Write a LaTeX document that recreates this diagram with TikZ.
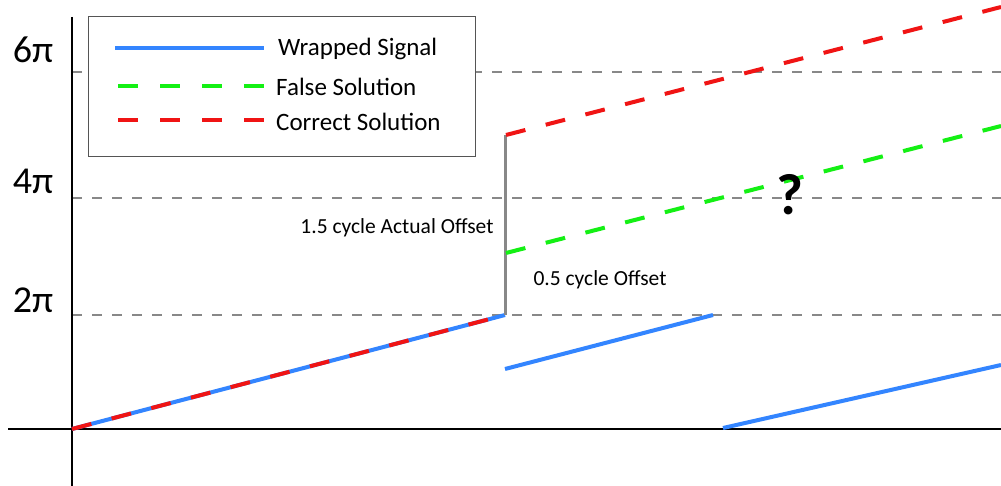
\documentclass[tikz,border=0pt]{standalone}
\usepackage{fontspec}
\setmainfont{Carlito}
\definecolor{sigblue}{RGB}{51,133,255}
\definecolor{falsegreen}{RGB}{20,240,20}
\definecolor{truered}{RGB}{240,20,20}
\definecolor{gridgray}{RGB}{136,136,136}
\definecolor{boxgray}{RGB}{85,85,85}
\begin{document}
\begin{tikzpicture}[x=1bp,y=-1bp,
  gridline/.style={draw=gridgray, line width=1.8bp, dash pattern=on 10bp off 10bp},
  axisline/.style={draw=black, line width=1.8bp},
  sig/.style={draw=sigblue, line width=4bp},
  sol/.style={line width=4bp, dash pattern=on 20bp off 21bp},
  legsol/.style={line width=4bp, dash pattern=on 20bp off 22bp},
  offsetline/.style={draw=gridgray, line width=3bp},
  pilab/.style={font=\fontsize{38bp}{42bp}\selectfont, inner sep=0pt},
  leglab/.style={font=\fontsize{25bp}{28bp}\selectfont, inner sep=0pt, anchor=west},
  notelab/.style={font=\fontsize{21.5bp}{24bp}\selectfont, inner sep=0pt},
]
\useasboundingbox[fill=white] (0,0) rectangle (1001,486);

% grid lines
\coordinate (g6l) at (72,72);  \coordinate (g6r) at (1001,72);
\coordinate (g4l) at (72,198); \coordinate (g4r) at (1001,198);
\coordinate (g2l) at (72,315); \coordinate (g2r) at (1001,315);
\draw[gridline] (g6l) -- (g6r);
\draw[gridline] (g4l) -- (g4r);
\draw[gridline] (g2l) -- (g2r);

% axes
\coordinate (yt) at (72,17);  \coordinate (yb) at (72,486);
\coordinate (xl) at (8,429);  \coordinate (xr) at (1001,429);
\draw[axisline, line width=1.5bp] (yt) -- (yb);
\draw[axisline] (xl) -- (xr);

% axis labels
\node[pilab] (l6) at (33,50) {6π};
\node[pilab] (l4) at (33,181) {4π};
\node[pilab] (l2) at (33,300) {2π};

% wrapped signal
\coordinate (b1s) at (72,429);  \coordinate (b1e) at (505,315);
\coordinate (b2s) at (505,369); \coordinate (b2e) at (713,315);
\coordinate (b3s) at (723,428); \coordinate (b3e) at (1001,365);
\draw[sig] (b1s) -- (b1e);
\draw[sig] (b2s) -- (b2e);
\draw[sig] (b3s) -- (b3e);
\draw[sol, draw=truered] (b1s) -- (b1e);

% offset line
\coordinate (ot) at (505,135);
\draw[offsetline] (b1e) -- (ot);

% solutions
\coordinate (r1s) at (506,135); \coordinate (r1e) at (1001,7);
\coordinate (f1s) at (506,253); \coordinate (f1e) at (1001,126);
\draw[sol, draw=truered] (r1s) -- (r1e);
\draw[sol, draw=falsegreen] (f1s) -- (f1e);

% notes
\node[notelab] (n15) at (397,228) {1.5 cycle Actual Offset};
\node[notelab] (n05) at (600,280) {0.5 cycle Offset};
\node[inner sep=0pt, font=\fontsize{58bp}{60bp}\selectfont\bfseries] (q) at (790,195) {?};

% legend
\node[draw=boxgray, line width=1.3bp, fill=white, minimum width=387bp, minimum height=140bp, inner sep=0pt, anchor=north west] (legend) at (88,16) {};
\coordinate (lbs) at (115,48); \coordinate (lbe) at (264,48);
\coordinate (lgs) at (118,86); \coordinate (lge) at (264,86);
\coordinate (lrs) at (118,120); \coordinate (lre) at (264,120);
\draw[sig] (lbs) -- (lbe);
\draw[legsol, draw=falsegreen] (lgs) -- (lge);
\draw[legsol, draw=truered] (lrs) -- (lre);
\node[leglab] (tw) at (278,49) {Wrapped Signal};
\node[leglab] (tf) at (276,87) {False Solution};
\node[leglab] (tc) at (276,122) {Correct Solution};
\end{tikzpicture}
\end{document}
